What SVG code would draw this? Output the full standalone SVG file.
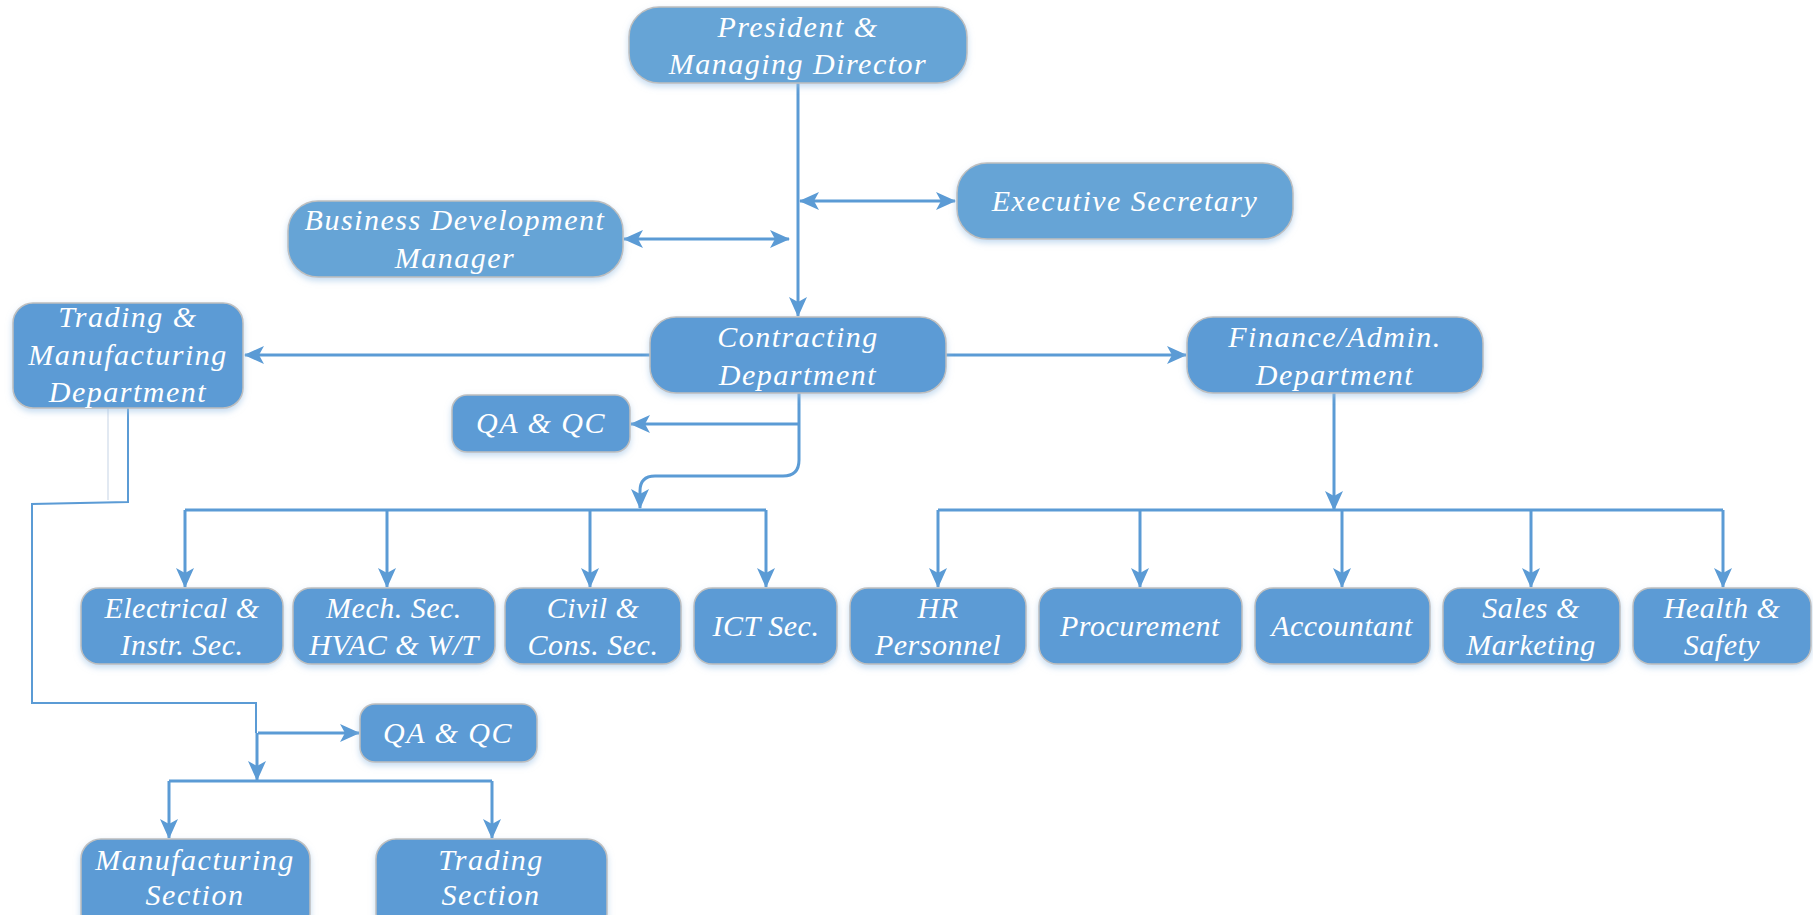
<svg xmlns="http://www.w3.org/2000/svg" width="1813" height="915" viewBox="0 0 1813 915">
<defs>
<filter id="sh" x="-10%" y="-10%" width="120%" height="140%">
<feDropShadow dx="0" dy="3" stdDeviation="3" flood-color="#9dc3e6" flood-opacity="0.6"/>
</filter>
<marker id="ah" viewBox="0 0 20 20" markerWidth="20" markerHeight="20" refX="19" refY="10" orient="auto-start-reverse" markerUnits="userSpaceOnUse">
<path d="M0,1 L20,10 L0,19 L5,10 z" fill="#5b9bd5"/>
</marker>
<style>
.box{fill:#5b9bd5;stroke:#bfbfbf;stroke-width:1.5;filter:url(#sh)}
.lt{fill:#66a4d6}
.t{font-family:'Liberation Serif','Times New Roman',serif;font-style:italic;fill:#ffffff;font-size:30px;text-anchor:middle;letter-spacing:1.5px}
.s{font-size:30px;letter-spacing:0.5px}
.c{fill:none;stroke:#5b9bd5;stroke-width:3}
.thin{stroke-width:2}
.a{marker-end:url(#ah)}
.aa{marker-start:url(#ah);marker-end:url(#ah)}
</style>
</defs>
<g id="connectors">
<line class="c a" x1="798" y1="83" x2="798" y2="316"/>
<line class="c aa" x1="800" y1="201" x2="955" y2="201"/>
<line class="c aa" x1="624" y1="239" x2="789" y2="239"/>
<line class="c a" x1="650" y1="355" x2="245" y2="355"/>
<line class="c a" x1="946" y1="355" x2="1186" y2="355"/>
<path class="c a" d="M799,393 V460 Q799,476 783,476 H655 Q640,476 640,491 V508"/>
<line class="c a" x1="799" y1="424" x2="631" y2="424"/>
<path class="c" d="M185,510 H766"/>
<line class="c a" x1="185" y1="510" x2="185" y2="587"/>
<line class="c a" x1="387" y1="510" x2="387" y2="587"/>
<line class="c a" x1="590" y1="510" x2="590" y2="587"/>
<line class="c a" x1="766" y1="510" x2="766" y2="587"/>
<line class="c a" x1="1334" y1="393" x2="1334" y2="510"/>
<path class="c" d="M938,510 H1723"/>
<line class="c a" x1="938" y1="510" x2="938" y2="587"/>
<line class="c a" x1="1140" y1="510" x2="1140" y2="587"/>
<line class="c a" x1="1342" y1="510" x2="1342" y2="587"/>
<line class="c a" x1="1531" y1="510" x2="1531" y2="587"/>
<line class="c a" x1="1723" y1="510" x2="1723" y2="587"/>
<line x1="108" y1="408" x2="108" y2="500" stroke="#d9e2ee" stroke-width="1.5"/>
<path class="c thin" d="M128,407 V502 L32,504 V703 H256 V733"/>
<path class="c a" d="M257,733 V780"/>
<line class="c a" x1="258" y1="733" x2="359" y2="733"/>
<path class="c" d="M169,781 H492"/>
<line class="c a" x1="169" y1="781" x2="169" y2="838"/>
<line class="c a" x1="492" y1="781" x2="492" y2="838"/>
</g>
<g id="president">
<rect class="box lt" x="629" y="7" width="338" height="76" rx="30"/>
<text class="t" x="798" y="37">President &amp;</text>
<text class="t" x="798" y="74">Managing Director</text>
</g>
<g id="exec-secretary">
<rect class="box lt" x="957" y="163" width="336" height="76" rx="30"/>
<text class="t" x="1125" y="211">Executive Secretary</text>
</g>
<g id="bdm">
<rect class="box lt" x="288" y="201" width="335" height="76" rx="30"/>
<text class="t" x="455" y="230">Business Development</text>
<text class="t" x="455" y="268">Manager</text>
</g>
<g id="trading-mfg">
<rect class="box" x="13" y="303" width="230" height="105" rx="20"/>
<text class="t" x="128" y="327">Trading &amp;</text>
<text class="t" x="128" y="365">Manufacturing</text>
<text class="t" x="128" y="402">Department</text>
</g>
<g id="contracting">
<rect class="box" x="650" y="317" width="296" height="76" rx="26"/>
<text class="t" x="798" y="347">Contracting</text>
<text class="t" x="798" y="385">Department</text>
</g>
<g id="finance">
<rect class="box" x="1187" y="317" width="296" height="76" rx="26"/>
<text class="t" x="1335" y="347">Finance/Admin.</text>
<text class="t" x="1335" y="385">Department</text>
</g>
<g id="qa1">
<rect class="box" x="452" y="395" width="178" height="57" rx="15"/>
<text class="t" x="541" y="433">QA &amp; QC</text>
</g>
<g id="electrical">
<rect class="box" x="81" y="588" width="202" height="76" rx="18"/>
<text class="t s" x="182" y="618">Electrical &amp;</text>
<text class="t s" x="182" y="655">Instr. Sec.</text>
</g>
<g id="mech">
<rect class="box" x="293" y="588" width="202" height="76" rx="18"/>
<text class="t s" x="394" y="618">Mech. Sec.</text>
<text class="t s" x="394" y="655">HVAC &amp; W/T</text>
</g>
<g id="civil">
<rect class="box" x="505" y="588" width="176" height="76" rx="18"/>
<text class="t s" x="593" y="618">Civil &amp;</text>
<text class="t s" x="593" y="655">Cons. Sec.</text>
</g>
<g id="ict">
<rect class="box" x="694" y="588" width="143" height="76" rx="18"/>
<text class="t s" x="766" y="636">ICT Sec.</text>
</g>
<g id="hr">
<rect class="box" x="850" y="588" width="176" height="76" rx="18"/>
<text class="t s" x="938" y="618">HR</text>
<text class="t s" x="938" y="655">Personnel</text>
</g>
<g id="procurement">
<rect class="box" x="1039" y="588" width="203" height="76" rx="18"/>
<text class="t s" x="1140" y="636">Procurement</text>
</g>
<g id="accountant">
<rect class="box" x="1255" y="588" width="175" height="76" rx="18"/>
<text class="t s" x="1342" y="636">Accountant</text>
</g>
<g id="sales">
<rect class="box" x="1443" y="588" width="177" height="76" rx="18"/>
<text class="t s" x="1531" y="618">Sales &amp;</text>
<text class="t s" x="1531" y="655">Marketing</text>
</g>
<g id="health">
<rect class="box" x="1633" y="588" width="178" height="76" rx="18"/>
<text class="t s" x="1722" y="618">Health &amp;</text>
<text class="t s" x="1722" y="655">Safety</text>
</g>
<g id="qa2">
<rect class="box" x="360" y="704" width="177" height="58" rx="15"/>
<text class="t" x="448" y="743">QA &amp; QC</text>
</g>
<g id="manufacturing">
<rect class="box" x="81" y="839" width="229" height="95" rx="20"/>
<text class="t" x="195" y="870">Manufacturing</text>
<text class="t" x="195" y="905">Section</text>
</g>
<g id="trading">
<rect class="box" x="376" y="839" width="231" height="95" rx="20"/>
<text class="t" x="491" y="870">Trading</text>
<text class="t" x="491" y="905">Section</text>
</g>
</svg>
